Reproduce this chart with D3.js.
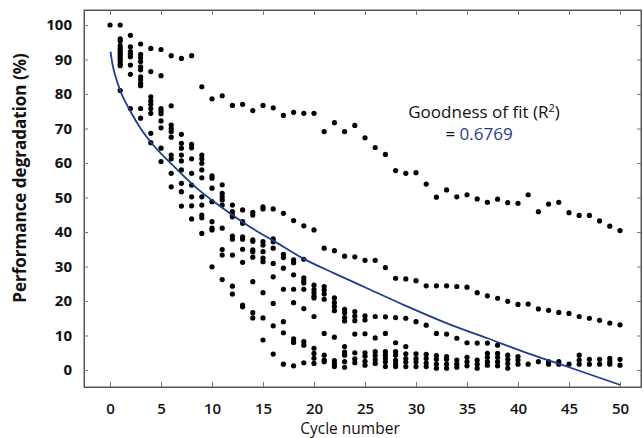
<!DOCTYPE html>
<html>
<head>
<meta charset="utf-8">
<script src="https://cdn.jsdelivr.net/npm/d3@7"></script>
<style>
  html, body { margin: 0; padding: 0; background: #fff; }
  svg { display: block; }
  text { font-family: "Open Sans", "Liberation Sans", sans-serif; }
</style>
</head>
<body>
<svg id="chart" width="643" height="438"></svg>
<script>
const _ = null;

// Categories: cycle number
const cycles = [0,1,2,3,4,5,6,7,8,9,10,11,12,13,14,15,16,17,18,19,20,21,22,23,24,25,
  26,27,28,29,30,31,32,33,34,35,36,37,38,39,40,41,42,43,44,45,46,47,48,49,50];

const xTickValues = [0,5,10,15,20,25,30,35,40,45,50];
const yTickValues = [0,10,20,30,40,50,60,70,80,90,100];

// Performance degradation (%) per cycle, one array per traced series
const series1 = [100,100,97,94.5,93.2,92.9,91.1,90.3,91.1,82.1,
  78.6,79.5,76.7,77,75.2,76.7,76,73.8,74.7,74.4,
  74.4,69.1,71.7,69.1,70.9,67.3,64.5,62.5,57.8,57,
  57.2,53.9,50.1,52.2,50.2,50.8,49.6,48.6,49.5,48.5,
  48.3,50.8,45.9,48.1,48.6,45.6,44.8,44.8,43.2,41.7,
  40.4];
const series2 = [_,96,93.7,91.5,86.5,85.3,76.6,68.3,65.4,62.3,
  56.3,53.7,47.8,46.4,45.7,47.3,46.7,45.4,43.3,41.8,
  40.6,35.3,34.6,33,32.8,31.8,31.8,29.7,26.6,26.4,
  25.9,24.4,24.4,24.4,24.2,24,22.4,21.5,20.8,19.9,
  19,19.1,17.7,17.3,16.7,16.4,15.5,15,14.4,13.6,
  13.1];
const series3 = [_,95.4,92.3,90.5,79.2,75.8,71,65.7,64.4,61.2,
  55.6,51.2,45.9,43,44.9,46.7,38,33.5,31.9,32.1,
  24.6,24.2,20.9,17.6,16.9,15.7,15.5,15.4,15.2,15,
  14,13,10.6,10.4,9.2,7.9,7.8,7.8,7.2,4.3,
  3.9,1.7,2.4,2.4,2.4,1.7,4.3,3.1,3.1,3.4,
  3.1];
const series4 = [_,94,91.5,89.4,78,75.1,70,64.3,61.2,59.9,
  52.7,50.2,44.8,42.5,37.7,37.2,37.2,32.6,31.1,26.7,
  23.3,23.2,19.5,16.6,15.6,14.5,9.3,10.6,7.9,6.8,
  4.7,4.5,4.2,3.9,2.9,3.7,2.9,4.8,4.8,3.1,
  2.9,_,_,1.7,1.7,_,2.9,1.7,1.7,2.4,
  1.4];
const series5 = [_,93.2,90.8,87.9,77,74.3,69.1,62.3,57,58,
  48.8,49.3,44.4,38.6,37.3,36.2,35.3,29.5,27.6,25.8,
  22.4,22,18.4,15.2,14.3,10.5,5.3,5.3,5.3,4.7,
  3.3,3.3,3.1,3.1,1.7,2.4,1.7,3.7,3.7,1.9,
  1.7,_,_,_,_,_,1.7,_,_,1.7];
const series6 = [_,92.5,88.4,87,75.8,72.2,67.5,60.6,53.6,55.7,
  43,47.8,38.8,37.9,34.8,34.3,30.9,23.4,23.4,25.2,
  21.4,20.5,17.2,14.2,10.4,5,4.2,4.3,4.3,3.3,
  2.3,2,1.7,1.7,0.8,1.2,0.5,2.4,2.4,0.5];
const series7 = [_,91.8,85.7,85,74.4,70.2,62.3,58,50.2,50.2,
  41.1,41.1,37.9,35,34.3,32.4,27,14,19.5,23.4,
  20.9,10.6,9.5,6.8,5,4,3,3.3,2.8,2.3,
  1,1,0.5,0.5,_,_,_,1.4,1.2];
const series8 = [_,91.1,75.8,84.1,68.6,64.3,61.2,54.1,47.6,47.8,
  40.6,34.9,33.3,31.2,32.7,31.4,19.3,10.8,9,17.8,
  15.5,4.3,2.7,5.2,3.2,2.5,1.9,2.3,1.8,1];
const series9 = [_,90.3,_,83.1,65.9,60.4,57,51.7,43.8,44.9,
  29.9,33.3,24.3,18.8,25.6,22.4,12.8,1.7,8,8.2,
  6.3,2.9,1.8,4.3,2.1,1.4,_,1,1];
const series10 = [_,89.6,_,82.4,_,_,53.1,47.5,_,44.1,
  _,26.2,22,18.3,16.6,15.1,4.6,_,1.2,7.2,
  4.8,2.4,1,2.4];
const series11 = [_,88.8,_,75.8,_,_,_,_,_,39.6,
  _,_,_,_,15.1,8.7,_,_,_,2.1,
  3.4,_,_,0.8];
const series12 = [_,88.2,_,73,_,_,_,_,_,_,
  _,_,_,_,_,_,_,_,_,_,
  1.9];
const series13 = [_,81];

// Fitted trend curve
const fitCycles = [0.05,0.25,0.5,1,2,3,4,6,8.5,11,13.7,16,19,22,25.2,29,33.3,37,41.2,45,50];
const fitValues = [92.3,88.5,85.5,81,75,70,66,59.8,52.7,47,41.5,37.5,32.2,28,23.7,18.6,13.2,9.2,4.6,0.8,-4.3];

const allSeries = [series1,series2,series3,series4,series5,series6,series7,
  series8,series9,series10,series11,series12,series13];

const svg = d3.select("#chart");

const x = d3.scaleLinear().domain([-2.55, 52.06]).range([84, 641]);
const y = d3.scaleLinear().domain([-4.93, 104.35]).range([387, 10]);

const frameColor = "#555";

// Frame (box)
svg.append("rect")
  .attr("x", x.range()[0]).attr("y", y.range()[1])
  .attr("width", x.range()[1] - x.range()[0])
  .attr("height", y.range()[0] - y.range()[1])
  .attr("fill", "none").attr("stroke", frameColor).attr("stroke-width", 1);

function styleAxis(g, hideLabels) {
  g.select(".domain").attr("stroke", frameColor);
  g.selectAll(".tick line").attr("stroke", "#777");
  if (hideLabels) g.selectAll(".tick text").remove();
}

svg.append("g").attr("transform", `translate(${x.range()[0]},0)`)
  .call(d3.axisLeft(y).tickValues(yTickValues).tickSizeInner(-4).tickSizeOuter(0).tickPadding(12))
  .call(g => styleAxis(g, false))
  .call(g => g.selectAll(".tick text")
    .attr("font-family", "'Open Sans', sans-serif")
    .attr("font-size", 15).attr("font-weight", 700).attr("fill", "#111"));

svg.append("g").attr("transform", `translate(0,${y.range()[0]})`)
  .call(d3.axisBottom(x).tickValues(xTickValues).tickSizeInner(-5).tickSizeOuter(0).tickPadding(16))
  .call(g => styleAxis(g, false))
  .call(g => g.selectAll(".tick text")
    .attr("font-family", "'Open Sans', sans-serif")
    .attr("font-size", 15).attr("font-weight", 600).attr("fill", "#111"));

svg.append("g").attr("transform", `translate(0,${y.range()[1]})`)
  .call(d3.axisTop(x).tickValues(xTickValues).tickSizeInner(-5).tickSizeOuter(0))
  .call(g => styleAxis(g, true));

svg.append("g").attr("transform", `translate(${x.range()[1]},0)`)
  .call(d3.axisRight(y).tickValues(yTickValues).tickSizeInner(-4).tickSizeOuter(0))
  .call(g => styleAxis(g, true));

// Data points
const points = [];
allSeries.forEach((s, si) => {
  s.forEach((v, i) => {
    if (v !== null && v !== undefined) points.push({ c: cycles[i], v, s: si });
  });
});

svg.append("g").selectAll("circle")
  .data(points).join("circle")
  .attr("cx", d => x(d.c))
  .attr("cy", d => y(d.v))
  .attr("r", 2.6)
  .attr("fill", "#000");

// Fit curve
const fitData = fitCycles.map((c, i) => ({ c, v: fitValues[i] }));
svg.append("path")
  .datum(fitData)
  .attr("fill", "none")
  .attr("stroke", "#1f3d8c")
  .attr("stroke-width", 1.8)
  .attr("d", d3.line().x(d => x(d.c)).y(d => y(d.v)).curve(d3.curveMonotoneX));

// Annotation
const ann = svg.append("text")
  .attr("x", 484).attr("y", 118)
  .attr("text-anchor", "middle")
  .attr("font-size", 17).attr("fill", "#111");
ann.append("tspan").text("Goodness of fit (R");
ann.append("tspan").attr("dy", -6).attr("font-size", 11).text("2");
ann.append("tspan").attr("dy", 6).text(")");

const ann2 = svg.append("text")
  .attr("x", 479).attr("y", 140)
  .attr("text-anchor", "middle")
  .attr("font-size", 17).attr("fill", "#111");
ann2.append("tspan").text("= ");
ann2.append("tspan").attr("fill", "#1f3d8c").text("0.6769");

// Axis titles
svg.append("text")
  .attr("transform", "translate(26,178) rotate(-90)")
  .attr("text-anchor", "middle")
  .attr("font-size", 17).attr("font-weight", 700).attr("fill", "#111")
  .text("Performance degradation (%)");

svg.append("text")
  .attr("x", 350).attr("y", 434)
  .attr("text-anchor", "middle")
  .attr("font-size", 15.5).attr("fill", "#111")
  .text("Cycle number");
</script>
</body>
</html>
